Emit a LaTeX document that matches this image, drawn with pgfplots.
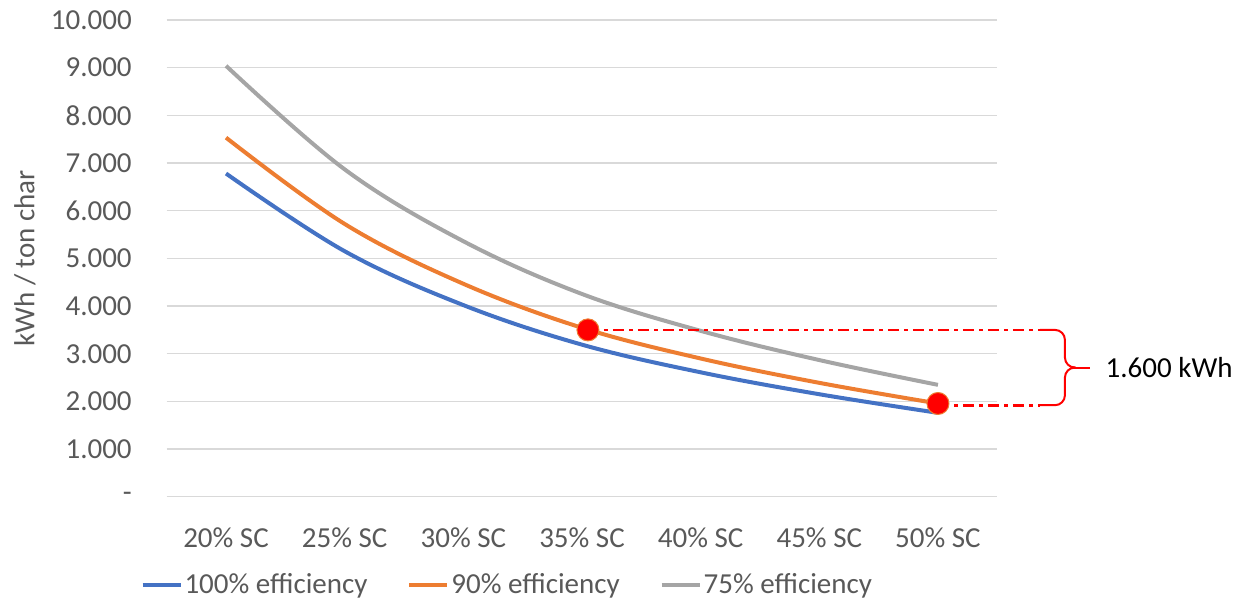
\documentclass[border=0pt]{standalone}
\usepackage{pgfplots}
\pgfplotsset{compat=1.18}
\usepackage{fontspec}
\setmainfont{Carlito}
\definecolor{cblue}{HTML}{4472C4}
\definecolor{corange}{HTML}{ED7D31}
\definecolor{cgray}{HTML}{A5A5A5}
\definecolor{cgrid}{HTML}{D9D9D9}
\definecolor{ctext}{HTML}{595959}
\newcommand\cf{\fontsize{14.5}{17}\selectfont}
\begin{document}
\begin{tikzpicture}
\begin{axis}[
  scale only axis,
  width=415.3pt, height=238.35pt,
  xmin=-0.5, xmax=6.5, ymin=0, ymax=10000,
  scaled ticks=false,
  axis line style={draw=none},
  major tick length=0pt,
  xtick={0,1,2,3,4,5,6},
  xticklabels={20\% SC,25\% SC,30\% SC,35\% SC,40\% SC,45\% SC,50\% SC},
  ytick={0,1000,2000,3000,4000,5000,6000,7000,8000,9000,10000},
  yticklabels={-,1.000,2.000,3.000,4.000,5.000,6.000,7.000,8.000,9.000,10.000},
  ymajorgrids, grid style={cgrid, line width=0.75pt},
  tick label style={font=\cf, text=ctext, inner sep=0pt},
  yticklabel shift=17.3pt,
  xticklabel shift=15.4pt,
  ylabel={kWh / ton char},
  ylabel style={font=\cf, text=ctext, at={(rel axis cs:-0.1706,0.5)}, anchor=center, rotate=0},
  clip=false,
  legend style={at={(0.41,-0.1846)}, anchor=center, draw=none, font=\cf, text=ctext,
    legend columns=-1, inner sep=0pt,
    /tikz/every even column/.append style={column sep=19pt},
    nodes={inner sep=1pt}},
  legend image code/.code={\draw[#1] (0pt,0pt) -- (19pt,0pt);},
]
\addplot[cblue, line width=2pt, smooth, tension=0.6] coordinates {(0,6780)(1,5150)(2,4020)(3,3190)(4,2610)(5,2150)(6,1760)};
\addlegendentry{100\% efficiency}
\addplot[corange, line width=2pt, smooth, tension=0.6] coordinates {(0,7533)(1,5722)(2,4467)(3,3544)(4,2900)(5,2389)(6,1956)};
\addlegendentry{90\% efficiency}
\addplot[cgray, line width=2pt, smooth, tension=0.6] coordinates {(0,9040)(1,6867)(2,5360)(3,4253)(4,3480)(5,2867)(6,2347)};
\addlegendentry{75\% efficiency}
\draw[red, line width=1.3pt, dash pattern=on 5.5pt off 2.5pt on 2pt off 2.5pt] (axis cs:3.05,3500) -- (axis cs:6.86,3500);
\draw[red, line width=1.3pt, dash pattern=on 5.5pt off 2.5pt on 2pt off 2.5pt] (axis cs:6,1920) -- (axis cs:6.86,1920);
\draw[red, line width=1pt, rounded corners=5pt] (axis cs:6.86,3500) -- (axis cs:7.07,3500) -- (axis cs:7.07,2710) -- (axis cs:7.16,2710);
\draw[red, line width=1pt, rounded corners=5pt] (axis cs:6.86,1920) -- (axis cs:7.07,1920) -- (axis cs:7.07,2710) -- (axis cs:7.16,2710);
\draw[red, line width=1pt] (axis cs:7.12,2710) -- (axis cs:7.28,2710);
\node[anchor=west, inner sep=0pt, font=\cf, text=black] at (axis cs:7.41,2710) {1.600 kWh};
\addplot[only marks, mark=*, mark size=5.5pt, mark options={fill=red, draw=corange, line width=0.5pt}, forget plot] coordinates {(3.05,3500)(6,1956)};
\path (rel axis cs:-0.2007,-0.2209) rectangle (rel axis cs:1.2958,1.042);
\end{axis}
\end{tikzpicture}
\end{document}
